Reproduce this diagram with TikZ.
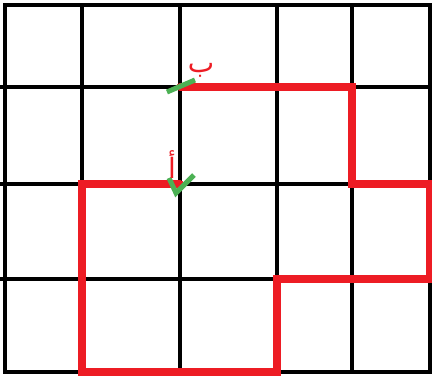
\documentclass[tikz,border=0pt]{standalone}
\usepackage{fontspec}
\newfontfamily\arabicfont[Script=Arabic]{DejaVu Sans}
\TeXXeTstate=1
\definecolor{pathred}{RGB}{237,28,36}
\definecolor{tickgreen}{RGB}{76,177,84}
\tikzset{
  gridline/.style={black,line width=4.8pt},
  pathline/.style={pathred,line width=7.5pt,line join=miter,line cap=round},
  tick/.style={tickgreen,line width=5pt,line cap=butt},
  lbl/.style={pathred,font=\arabicfont\fontsize{28}{28}\selectfont,inner sep=0pt}
}
\begin{document}
\begin{tikzpicture}[x=1pt,y=-1pt]
\useasboundingbox (0,0) rectangle (432,376);
\fill[white] (0,0) rectangle (432,376);
% grid
\foreach \x in {5,82,180,277,352,430} \draw[gridline] (\x,3) -- (\x,374);
\foreach \y in {5,372} \draw[gridline] (3,\y) -- (432,\y);
\foreach \y in {87,184,279} \draw[gridline] (0,\y) -- (432,\y);
% red path
\draw[pathline] (180,87) -- (352,87) -- (352,184) -- (430,184) -- (430,279) -- (277,279) -- (277,372) -- (82,372) -- (82,184) -- (180,184);
% green ticks
\draw[tick] (167,92) -- (195,80);
\draw[tick] (169,178) -- (176,193) -- (194,175);
% labels
\node[lbl] (b) at (201,70) {\beginR ب\endR};
\node[lbl] (a) at (172,165) {\beginR أ\endR};
\end{tikzpicture}
\end{document}
